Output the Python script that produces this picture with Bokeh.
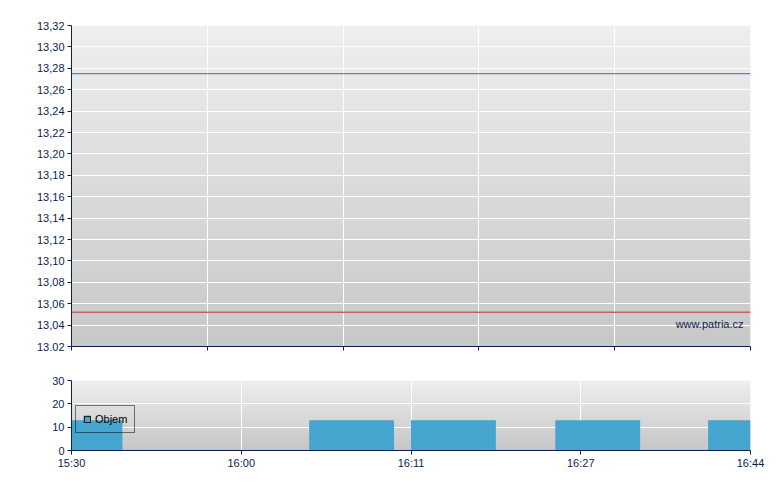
import numpy as np
from bokeh.plotting import figure
from bokeh.layouts import column
from bokeh.models import Range1d, FixedTicker, Span, Label, Legend, LegendItem
from bokeh.embed import file_html
from bokeh.resources import INLINE

# ---- data ----
price_y_ticks = [13.02, 13.04, 13.06, 13.08, 13.10, 13.12, 13.14, 13.16, 13.18, 13.20,
                 13.22, 13.24, 13.26, 13.28, 13.30, 13.32]
price_y_labels = ["13.02", "13,04", "13,06", "13,08", "13,10", "13,12", "13,14", "13,16",
                  "13,18", "13,20", "13,22", "13,24", "13,26", "13,28", "13,30", "13,32"]
price_x_ticks = [0, 3.2, 6.4, 9.6, 12.8, 16]
price_levels = [13.275, 13.052]          # blue line, red line
price_level_colors = ["#3f95c6", "#c46262"]
price_level_widths = [1.2, 1.5]

time_ticks = [0, 4, 8, 12, 16]
time_labels = ["15:30", "16:00", "16:11", "16:27", "16:44"]
vol_x = [0.2, 6.6, 9.0, 12.4, 16.0]      # trade position (index units)
vol_values = [13, 13, 13, 13, 13]
vol_y_ticks = [0, 10, 20, 30]

NAVY = "#0a1e50"
BAR = "#46a5ce"
FONT = "Liberation Sans"

X0, X1 = 0, 16
PY0, PY1 = 13.02, 13.32
VY0, VY1 = 0, 30


def gradient(top_gray, bottom_gray, n=200):
    g = np.linspace(bottom_gray, top_gray, n).astype(np.uint8)
    img = np.empty((n, 1), dtype=np.uint32)
    v = img.view(dtype=np.uint8).reshape((n, 1, 4))
    v[:, 0, 0] = g
    v[:, 0, 1] = g
    v[:, 0, 2] = g
    v[:, 0, 3] = 255
    return img


def style_axes(p):
    for ax in (p.xaxis[0], p.yaxis[0]):
        ax.axis_line_color = NAVY
        ax.major_tick_line_color = NAVY
        ax.major_tick_out = 4
        ax.major_tick_in = 0
        ax.minor_tick_line_color = None
        ax.major_label_text_color = NAVY
        ax.major_label_text_font = FONT
        ax.major_label_text_font_size = "11px"
    p.yaxis[0].major_label_standoff = 3
    p.xaxis[0].major_label_standoff = 2
    p.grid.grid_line_color = "white"
    p.grid.grid_line_width = 1
    p.outline_line_color = None
    p.border_fill_color = "white"


# ---- price chart ----
p1 = figure(width=768, height=366, x_range=Range1d(X0, X1), y_range=Range1d(PY0, PY1),
            output_backend="svg", toolbar_location=None,
            min_border_left=71, min_border_right=18, min_border_top=25, min_border_bottom=20)
p1.image_rgba(image=[gradient(239, 200)], x=X0, y=PY0, dw=X1 - X0, dh=PY1 - PY0, level="image")
style_axes(p1)
p1.xaxis.ticker = FixedTicker(ticks=price_x_ticks)
p1.xaxis.major_label_overrides = {t: "" for t in price_x_ticks}
p1.xgrid.ticker = FixedTicker(ticks=price_x_ticks)
p1.yaxis.ticker = FixedTicker(ticks=price_y_ticks)
p1.ygrid.ticker = FixedTicker(ticks=price_y_ticks)
p1.yaxis.major_label_overrides = {t: l for t, l in zip(price_y_ticks, price_y_labels)}

for lvl, col, lw in zip(price_levels, price_level_colors, price_level_widths):
    p1.add_layout(Span(location=lvl, dimension="width", line_color=col, line_width=lw))

p1.add_layout(Label(x=X1, y=PY0, x_offset=-7, y_offset=17, text="www.patria.cz",
                    text_align="right", text_baseline="bottom", text_color=NAVY,
                    text_font=FONT, text_font_size="11px"))

# ---- volume chart ----
p2 = figure(width=768, height=114, x_range=Range1d(X0, X1), y_range=Range1d(VY0, VY1),
            output_backend="svg", toolbar_location=None,
            min_border_left=71, min_border_right=18, min_border_top=14, min_border_bottom=30)
p2.image_rgba(image=[gradient(239, 198)], x=X0, y=VY0, dw=X1 - X0, dh=VY1 - VY0, level="image")
style_axes(p2)
p2.xaxis.ticker = FixedTicker(ticks=time_ticks)
p2.xgrid.ticker = FixedTicker(ticks=time_ticks)
p2.xaxis.major_label_overrides = {t: l for t, l in zip(time_ticks, time_labels)}
p2.yaxis.ticker = FixedTicker(ticks=vol_y_ticks)
p2.ygrid.ticker = FixedTicker(ticks=vol_y_ticks)

p2.vbar(x=vol_x, top=vol_values, width=2, fill_color=BAR, line_color=None)
# legend proxy, placed outside the visible x range
proxy = p2.quad(left=[X1 + 1], right=[X1 + 2], bottom=[VY0], top=[VY1],
                fill_color=BAR, line_color="black", line_width=1)

legend = Legend(items=[LegendItem(label="Objem", renderers=[proxy])],
                location=(4, 17), border_line_color="black", border_line_width=1.3,
                background_fill_alpha=0, label_text_font=FONT, label_text_font_size="11px",
                label_text_color="black", glyph_width=8, glyph_height=8, label_height=12,
                label_standoff=4, padding=7, margin=0)
p2.add_layout(legend)

layout = column(p1, p2, spacing=0)
open("out.html", "w").write(file_html(layout, INLINE))
